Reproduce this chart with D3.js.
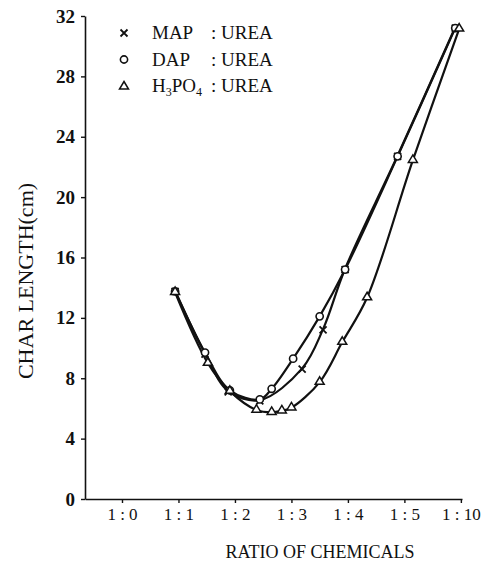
<!DOCTYPE html>
<html><head><meta charset="utf-8">
<script src="https://cdn.jsdelivr.net/npm/d3@7"></script>
<style>
html,body{margin:0;padding:0;background:#fff;}
svg{display:block;}
svg text{font-family:"Liberation Serif","DejaVu Serif",serif !important;fill:#111;}
</style></head>
<body>
<svg id="c" width="489" height="573"></svg>
<script>
// ---- data ----
const categories = ["1 : 0","1 : 1","1 : 2","1 : 3","1 : 4","1 : 5","1 : 10"];
const yTickValues = [0,4,8,12,16,20,24,28,32];
// x = position on the ratio axis (category index, fractional)
const mapX  = [0.94,1.47,1.88,2.44,3.19,3.56,3.95,4.88,5.90];
const mapY  = [13.75,9.6,7.1,6.5,8.6,11.2,15.2,22.7,31.2];
const dapX  = [0.94,1.47,1.91,2.44,2.65,3.03,3.50,3.95,4.88,5.90];
const dapY  = [13.75,9.7,7.2,6.6,7.3,9.3,12.1,15.2,22.7,31.2];
const h3pX  = [0.94,1.52,1.91,2.38,2.65,2.83,3.00,3.50,3.90,4.34,5.15,5.97];
const h3pY  = [13.75,9.06,7.2,5.95,5.8,5.9,6.1,7.8,10.45,13.4,22.5,31.2];

const svg = d3.select("#c");
const x = d3.scaleLinear().domain([-0.655, 6.02]).range([85, 462]);
const y = d3.scaleLinear().domain([0, 32]).range([499, 16]);

// y axis
const ya = svg.append("g").attr("transform","translate(85,0)")
  .call(d3.axisLeft(y).tickValues(yTickValues).tickSize(4).tickSizeOuter(0).tickPadding(6));
ya.attr("font-family",null);
ya.select(".domain").attr("stroke","#111").attr("stroke-width",1.6);
ya.selectAll(".tick line").attr("stroke","#111").attr("stroke-width",1.4);
ya.selectAll(".tick text").attr("font-size",19).style("font-weight","bold").attr("fill","#111");

// x axis
const xa = svg.append("g").attr("transform","translate(0,499)")
  .call(d3.axisBottom(x).tickValues(d3.range(categories.length)).tickFormat(i=>categories[i]).tickSize(4).tickSizeOuter(0).tickPadding(5));
xa.attr("font-family",null);
xa.select(".domain").attr("stroke","#111").attr("stroke-width",1.6);
xa.selectAll(".tick line").attr("stroke","#111").attr("stroke-width",1.4);
xa.selectAll(".tick text").attr("font-size",17).attr("fill","#111");

// titles
svg.append("text").attr("transform","translate(33,281) rotate(-90)")
  .attr("text-anchor","middle").attr("font-size",22).text("CHAR LENGTH(cm)");
svg.append("text").attr("x",320).attr("y",558)
  .attr("text-anchor","middle").attr("font-size",18).text("RATIO OF CHEMICALS");

// lines
const line = d3.line().x(d=>x(d[0])).y(d=>y(d[1])).curve(d3.curveCatmullRom.alpha(0.5));
const series = [
  {name:"MAP", xs:mapX, ys:mapY, sym:"cross"},
  {name:"DAP", xs:dapX, ys:dapY, sym:"circle"},
  {name:"H3PO4", xs:h3pX, ys:h3pY, sym:"triangle"}
];
series.forEach((s,k)=>{
  const pts = s.xs.map((v,i)=>[v,s.ys[i]]);
  svg.append("path").datum(pts).attr("d",line)
    .attr("fill","none").attr("stroke","#111").attr("stroke-width",2.2)
    .attr("transform",`translate(0,${(k-1)*0.8})`);
});

function drawSym(g, sym, cx, cy){
  if(sym==="cross"){
    g.append("path").attr("d",`M${cx-3.5},${cy-3.5}L${cx+3.5},${cy+3.5}M${cx-3.5},${cy+3.5}L${cx+3.5},${cy-3.5}`)
      .attr("stroke","#111").attr("stroke-width",1.8).attr("fill","none");
  } else if(sym==="circle"){
    g.append("circle").attr("cx",cx).attr("cy",cy).attr("r",3.6)
      .attr("fill","#fff").attr("stroke","#111").attr("stroke-width",1.6);
  } else {
    g.append("path").attr("d",`M${cx},${cy-4.5}L${cx+4.5},${cy+3}L${cx-4.5},${cy+3}Z`)
      .attr("fill","#fff").attr("stroke","#111").attr("stroke-width",1.5);
  }
}
const mk = svg.append("g");
series.forEach(s=>{
  s.xs.forEach((v,i)=>drawSym(mk, s.sym, x(v), y(s.ys[i])));
});

// legend
const leg = svg.append("g");
const rows = [
  {sym:"cross", label:"MAP"},
  {sym:"circle", label:"DAP"},
  {sym:"triangle", label:null}
];
rows.forEach((r,i)=>{
  const by = 39 + i*26.5;
  drawSym(leg, r.sym, 124, by-6);
  const t = leg.append("text").attr("x",152).attr("y",by).attr("font-size",19);
  if(r.label){ t.text(r.label); }
  else {
    t.append("tspan").text("H");
    t.append("tspan").attr("font-size",12).attr("dy",4).text("3");
    t.append("tspan").attr("dy",-4).text("PO");
    t.append("tspan").attr("font-size",12).attr("dy",4).text("4");
  }
  leg.append("text").attr("x",211).attr("y",by).attr("font-size",19).text(": UREA");
});
</script>
</body></html>
